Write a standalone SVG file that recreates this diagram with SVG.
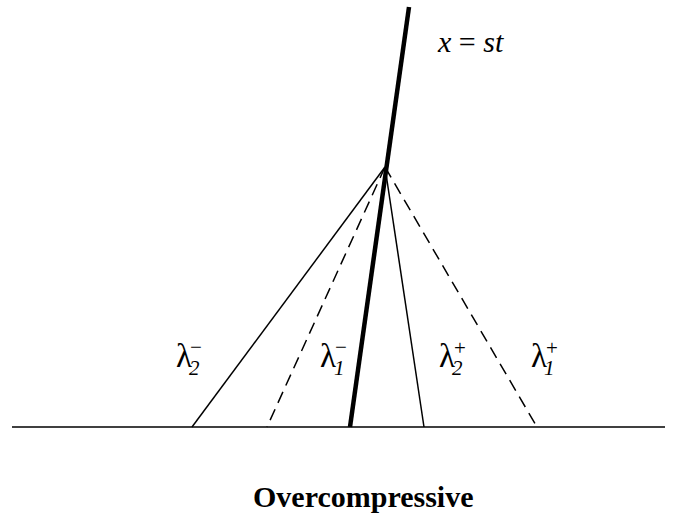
<svg xmlns="http://www.w3.org/2000/svg" width="677" height="519" viewBox="0 0 677 519">
<style>
.thin{stroke:#000;stroke-width:1.5;fill:none}
.dash{stroke:#000;stroke-width:1.5;fill:none;stroke-dasharray:12 7}
.thick{stroke:#000;stroke-width:4.5;fill:none}
.lam{font-family:"Liberation Serif",serif;font-size:33px;fill:#000}
.sub{font-family:"Liberation Serif",serif;font-size:21px;font-style:italic;fill:#000}
.sup{font-family:"Liberation Serif",serif;font-size:21px;fill:#000}
.eq{font-family:"Liberation Serif",serif;font-size:30px;fill:#000}
.title{font-family:"Liberation Serif",serif;font-size:30px;font-weight:bold;fill:#000}
</style>
<rect width="677" height="519" fill="#fff"/>
<g id="connectors">
<line class="thin" x1="12" y1="427" x2="665" y2="427"/>
<line class="thin" x1="385" y1="167" x2="192" y2="427"/>
<line class="dash" x1="385" y1="167" x2="267" y2="427"/>
<line class="thin" x1="385" y1="167" x2="424" y2="427"/>
<line class="dash" x1="385" y1="167" x2="537" y2="427"/>
<line class="thick" x1="350" y1="427" x2="409" y2="7"/>
</g>
<g id="label-shock">
<text class="eq" x="438" y="52"><tspan font-style="italic">x</tspan> = <tspan font-style="italic">st</tspan></text>
</g>
<g id="label-l2m">
<text class="lam" x="176" y="367">λ</text>
<text class="sub" x="189" y="375">2</text>
<text class="sup" x="190" y="354">−</text>
</g>
<g id="label-l1m">
<text class="lam" x="320" y="367">λ</text>
<text class="sub" x="334" y="375">1</text>
<text class="sup" x="335" y="354">−</text>
</g>
<g id="label-l2p">
<text class="lam" x="439" y="367">λ</text>
<text class="sub" x="452" y="375">2</text>
<text class="sup" x="454" y="355">+</text>
</g>
<g id="label-l1p">
<text class="lam" x="531" y="367">λ</text>
<text class="sub" x="544" y="375">1</text>
<text class="sup" x="546" y="355">+</text>
</g>
<g id="title">
<text class="title" x="253" y="507">Overcompressive</text>
</g>
</svg>
